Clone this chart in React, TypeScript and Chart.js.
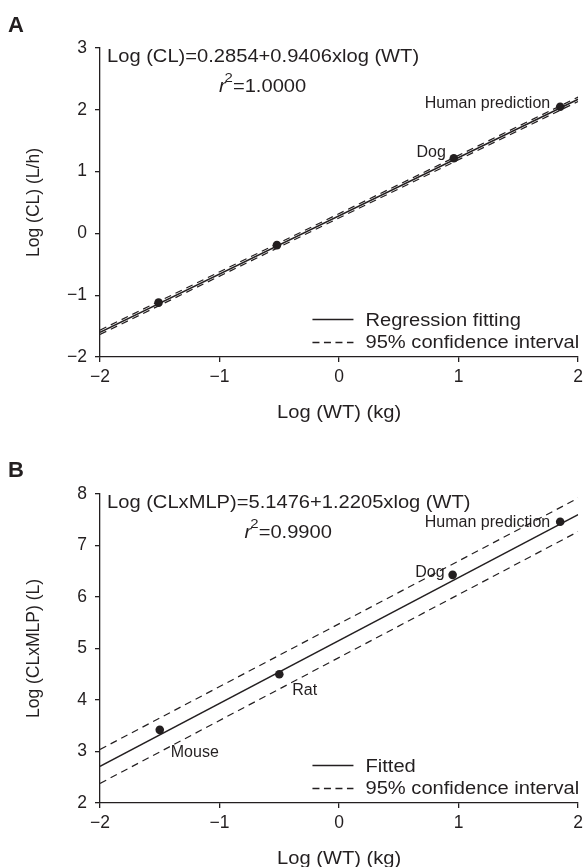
import React, { useEffect, useRef } from "react";
import { Chart, registerables } from "chart.js";

Chart.register(...registerables);

// ---------------- data ----------------
const xTicks = [-2, -1, 0, 1, 2];
const lineX = [-2, 2];
const xTitle = "Log (WT) (kg)";

// Panel A
const aSpecies = ["Mouse", "Rat", "Dog", "Human prediction"];
const aLogWT = [-1.51, -0.52, 0.96, 1.85];
const aLogCL = [-1.12, -0.19, 1.215, 2.05];
const aPointLabels = ["", "", "Dog", "Human prediction"];
const aFit = [-1.6, 2.17];
const aUpper = [-1.565, 2.205];
const aLower = [-1.635, 2.135];
const aYTicks = [-2, -1, 0, 1, 2, 3];
const aYTitle = "Log (CL) (L/h)";
const aEquation = "Log (CL)=0.2854+0.9406xlog (WT)";
const aR2 = "=1.0000";
const aLegend = ["Regression fitting", "95% confidence interval"];

// Panel B
const bSpecies = ["Mouse", "Rat", "Dog", "Human prediction"];
const bLogWT = [-1.5, -0.5, 0.95, 1.85];
const bLogCLxMLP = [3.42, 4.5, 6.43, 7.46];
const bPointLabels = ["Mouse", "Rat", "Dog", "Human prediction"];
const bFit = [2.71, 7.6];
const bUpper = [3.04, 7.92];
const bLower = [2.38, 7.27];
const bYTicks = [2, 3, 4, 5, 6, 7, 8];
const bYTitle = "Log (CLxMLP) (L)";
const bEquation = "Log (CLxMLP)=5.1476+1.2205xlog (WT)";
const bR2 = "=0.9900";
const bLegend = ["Fitted", "95% confidence interval"];

// ---------------- style ----------------
const FONT = "'Liberation Sans', Arial, Helvetica, sans-serif";
const INK = "#231f20";
const SX = 1.15; // horizontal stretch of annotation text
const AREA_TOP = 48;
const AREA_BOTTOM = 357;
const AREA_LEFT = 100;
const RIGHT_PAD = 8;
const XSCALE_H = 40;

type Place = { dx: number; dy: number; align: CanvasTextAlign };
const aPlace: Record<string, Place> = {
  Dog: { dx: -8, dy: -1, align: "right" },
  "Human prediction": { dx: -10, dy: 1, align: "right" },
};
const bPlace: Record<string, Place> = {
  Mouse: { dx: 11, dy: 27, align: "left" },
  Rat: { dx: 13, dy: 21, align: "left" },
  Dog: { dx: -8, dy: 2, align: "right" },
  "Human prediction": { dx: -10, dy: 5, align: "right" },
};

type Spec = {
  letter: string;
  species: string[];
  wt: number[];
  val: number[];
  pointLabels: string[];
  place: Record<string, Place>;
  fit: number[];
  upper: number[];
  lower: number[];
  yTicks: number[];
  yTitle: string;
  equation: string;
  r2: string;
  legend: string[];
};

const specA: Spec = {
  letter: "A",
  species: aSpecies,
  wt: aLogWT,
  val: aLogCL,
  pointLabels: aPointLabels,
  place: aPlace,
  fit: aFit,
  upper: aUpper,
  lower: aLower,
  yTicks: aYTicks,
  yTitle: aYTitle,
  equation: aEquation,
  r2: aR2,
  legend: aLegend,
};
const specB: Spec = {
  letter: "B",
  species: bSpecies,
  wt: bLogWT,
  val: bLogCLxMLP,
  pointLabels: bPointLabels,
  place: bPlace,
  fit: bFit,
  upper: bUpper,
  lower: bLower,
  yTicks: bYTicks,
  yTitle: bYTitle,
  equation: bEquation,
  r2: bR2,
  legend: bLegend,
};

const fmt = (v: number) => (v < 0 ? "\u2212" + Math.abs(v) : String(v));

function sText(ctx: CanvasRenderingContext2D, text: string, x: number, y: number, font: string, align: "left" | "right" | "center" = "left") {
  ctx.save();
  ctx.font = font;
  const w = ctx.measureText(text).width * SX;
  let sx = x;
  if (align === "right") sx = x - w;
  if (align === "center") sx = x - w / 2;
  ctx.translate(sx, y);
  ctx.scale(SX, 1);
  ctx.textAlign = "left";
  ctx.textBaseline = "alphabetic";
  ctx.fillText(text, 0, 0);
  ctx.restore();
  return w;
}

function sWidth(ctx: CanvasRenderingContext2D, text: string, font: string) {
  ctx.save();
  ctx.font = font;
  const w = ctx.measureText(text).width * SX;
  ctx.restore();
  return w;
}

function annotPlugin(p: Spec) {
  return {
    id: "annot" + p.letter,
    afterDatasetsDraw(chart: any) {
      const { ctx, chartArea: ca, scales } = chart;
      const x = scales.x;
      const y = scales.y;
      const main = `17.5px ${FONT}`;
      ctx.save();
      ctx.fillStyle = INK;
      ctx.strokeStyle = INK;

      // panel letter
      ctx.font = `bold 22px ${FONT}`;
      ctx.textAlign = "left";
      ctx.textBaseline = "alphabetic";
      ctx.fillText(p.letter, 8, p.letter === "A" ? 32 : 31);

      // equation
      const eqX = ca.left + 7;
      const eqW = sText(ctx, p.equation, eqX, ca.top + 13.5, main);
      const eqC = eqX + eqW / 2;

      // r^2 line
      const rFont = `italic 17.5px ${FONT}`;
      const supFont = `13px ${FONT}`;
      const wR = sWidth(ctx, "r", rFont);
      const wS = sWidth(ctx, "2", supFont);
      const wE = sWidth(ctx, p.r2, main);
      const total = wR + wS + wE;
      let cx = eqC - total / 2;
      const by = ca.top + 44;
      sText(ctx, "r", cx, by, rFont);
      cx += wR;
      sText(ctx, "2", cx - 1, by - 10, supFont);
      cx += wS - 1;
      sText(ctx, p.r2, cx, by, main);

      // legend
      const maxW = Math.max(...p.legend.map((t) => sWidth(ctx, t, main)));
      const tx = ca.right + 1 - maxW;
      const rows = [ca.bottom - 31.5, ca.bottom - 9.2];
      p.legend.forEach((t, i) => {
        sText(ctx, t, tx, rows[i], main);
        const ly = Math.round(rows[i] - 6.3) + 0.5;
        ctx.beginPath();
        ctx.lineWidth = i === 0 ? 1.5 : 1.3;
        ctx.setLineDash(i === 0 ? [] : [7, 4.5]);
        ctx.moveTo(tx - 53, ly);
        ctx.lineTo(tx - 12, ly);
        ctx.stroke();
      });
      ctx.setLineDash([]);

      // x title
      sText(ctx, xTitle, (ca.left + ca.right) / 2, ca.bottom + 60.7, main, "center");

      // point labels
      ctx.font = `16px ${FONT}`;
      ctx.textBaseline = "alphabetic";
      p.pointLabels.forEach((lab, i) => {
        if (!lab) return;
        const pl = p.place[lab];
        if (!pl) return;
        const px = x.getPixelForValue(p.wt[i]);
        const py = y.getPixelForValue(p.val[i]);
        ctx.textAlign = pl.align;
        ctx.fillText(lab, px + pl.dx, py + pl.dy);
      });
      ctx.restore();
    },
  };
}

function buildConfig(p: Spec, H: number): any {
  const pts = (xs: number[], ys: number[]) => xs.map((v, i) => ({ x: v, y: ys[i] }));
  const tickFont = { family: FONT, size: 17.5 };
  const grid = { display: true, drawOnChartArea: false, drawTicks: true, tickLength: 5, color: INK, lineWidth: 1.3 };
  const border = { display: true, color: INK, width: 1.3 };
  return {
    type: "scatter",
    data: {
      datasets: [
        { label: p.legend[1], data: pts(lineX, p.upper), showLine: true, borderColor: INK, borderWidth: 1.2, borderDash: [7, 5], pointRadius: 0, fill: false },
        { label: p.legend[1], data: pts(lineX, p.lower), showLine: true, borderColor: INK, borderWidth: 1.2, borderDash: [7, 5], pointRadius: 0, fill: false },
        { label: p.legend[0], data: pts(lineX, p.fit), showLine: true, borderColor: INK, borderWidth: 1.5, pointRadius: 0, fill: false },
        { label: "Species", data: pts(p.wt, p.val), showLine: false, pointRadius: 4.3, pointBackgroundColor: INK, pointBorderColor: INK, pointBorderWidth: 0 },
      ],
    },
    options: {
      responsive: false,
      animation: false,
      events: [],
      layout: { padding: { top: AREA_TOP, right: RIGHT_PAD, left: 0, bottom: H - AREA_BOTTOM - XSCALE_H } },
      plugins: { legend: { display: false }, tooltip: { enabled: false }, title: { display: false } },
      scales: {
        x: {
          type: "linear",
          min: -2,
          max: 2,
          afterBuildTicks: (s: any) => {
            s.ticks = xTicks.map((v) => ({ value: v }));
          },
          afterFit: (s: any) => {
            s.height = XSCALE_H;
          },
          ticks: { font: tickFont, color: INK, padding: 5, callback: (v: any) => fmt(Number(v)), maxRotation: 0, autoSkip: false },
          grid,
          border,
        },
        y: {
          type: "linear",
          min: p.yTicks[0],
          max: p.yTicks[p.yTicks.length - 1],
          afterBuildTicks: (s: any) => {
            s.ticks = p.yTicks.map((v) => ({ value: v }));
          },
          afterFit: (s: any) => {
            s.width = AREA_LEFT;
          },
          ticks: { font: tickFont, color: INK, padding: 8, callback: (v: any) => fmt(Number(v)), autoSkip: false },
          title: { display: true, text: p.yTitle, color: INK, font: { family: FONT, size: 17.5 }, padding: { top: 23.5, bottom: 0 } },
          grid,
          border,
        },
      },
    },
    plugins: [annotPlugin(p)],
  };
}

function Panel({ spec, top, height }: { spec: Spec; top: number; height: number }) {
  const ref = useRef<HTMLCanvasElement>(null);
  useEffect(() => {
    if (!ref.current) return;
    const chart = new Chart(ref.current, buildConfig(spec, height));
    return () => chart.destroy();
  }, [spec, height]);
  return (
    <div style={{ position: "absolute", left: 0, top, width: 588, height }}>
      <canvas ref={ref} width={588} height={height} style={{ display: "block", width: 588, height }} />
    </div>
  );
}

export default function App() {
  return (
    <div style={{ position: "absolute", left: 0, top: 0, width: 588, height: 867, overflow: "hidden", background: "#fff" }}>
      <Panel spec={specA} top={0} height={446} />
      <Panel spec={specB} top={446} height={421} />
    </div>
  );
}
